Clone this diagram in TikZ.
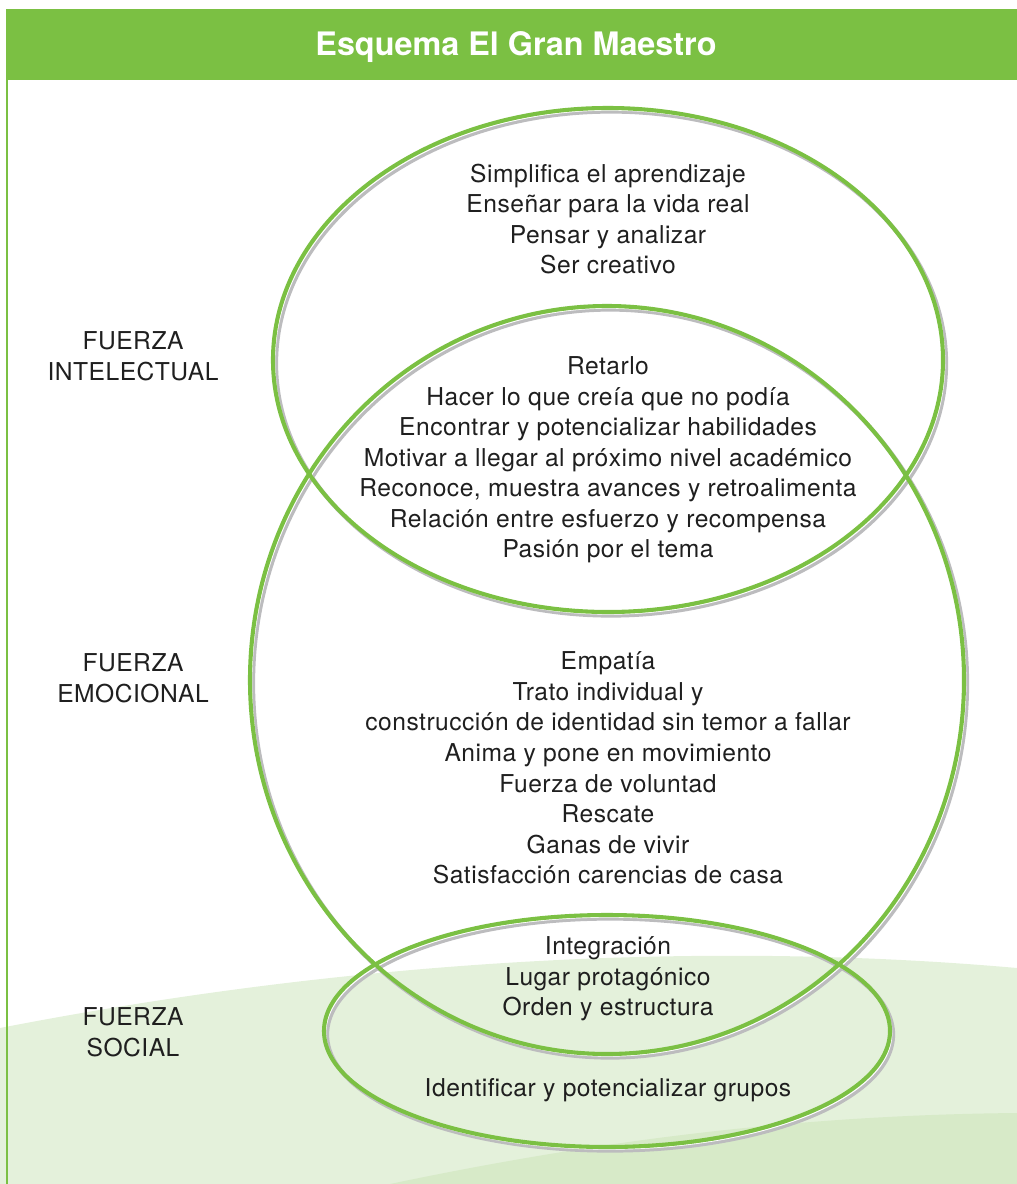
\documentclass[tikz,border=0pt]{standalone}
\usepackage{fontspec}
\setmainfont{TeX Gyre Heros}
\newfontfamily\texto[LetterSpace=2]{TeX Gyre Heros}
\definecolor{verde}{RGB}{123,192,67}
\definecolor{verdeclaro}{RGB}{228,241,219}
\definecolor{verdemedio}{RGB}{215,234,200}
\definecolor{sombra}{RGB}{188,188,190}

\begin{document}
\begin{tikzpicture}[x=0.025cm,y=-0.025cm,
    txt/.style={align=center,inner sep=0pt,text=black!88,font=\texto\fontsize{17.5}{21.7}\selectfont},
    fuerza/.style={txt}]
    \useasboundingbox (0,0) rectangle (1017,1184);

    % fondo
    \fill[verdeclaro] (0,1028) .. controls (350,960) and (700,940) .. (1017,968) -- (1017,1184) -- (0,1184) -- cycle;
    \fill[verdemedio] (390,1184) .. controls (600,1140) and (800,1115) .. (1017,1113) -- (1017,1184) -- cycle;
    \fill[verde] (6,9) rectangle (1017,80);
    \draw[verde,line width=1.4pt] (7,80) -- (7,1184);
    \node[text=white,inner sep=0pt,font=\bfseries\fontsize{23}{28}\selectfont](titulo) at (516,47) {Esquema El Gran Maestro};

    % elipses
    \foreach \cx/\cy/\rx/\ry in {608/360/335/252, 607/680/357/374, 607/1031/283/116}
      \draw[sombra,line width=3pt] (\cx+3,\cy+3.5) ellipse [x radius=\rx, y radius=\ry];
    \foreach \cx/\cy/\rx/\ry in {608/360/335/252, 607/680/357/374, 607/1031/283/116}
      \draw[white,line width=0.8pt] (\cx+1.8,\cy+2.1) ellipse [x radius=\rx, y radius=\ry];
    \foreach \cx/\cy/\rx/\ry in {608/360/335/252, 607/680/357/374, 607/1031/283/116}
      \draw[verde,line width=2.9pt] (\cx,\cy) ellipse [x radius=\rx, y radius=\ry];

    \node[fuerza](intelectual) at (133,356) {FUERZA\\INTELECTUAL};
    \node[fuerza](emocional) at (133,678) {FUERZA\\EMOCIONAL};
    \node[fuerza](social) at (133,1032) {FUERZA\\SOCIAL};

    \node[txt](arriba) at (608,219) {Simplifica el aprendizaje\\Enseñar para la vida real\\Pensar y analizar\\Ser creativo};
    \node[txt](cruce) at (608,460) {Retarlo\\Hacer lo que creía que no podía\\Encontrar y potencializar habilidades\\Motivar a llegar al próximo nivel académico\\Reconoce, muestra avances y retroalimenta\\Relación entre esfuerzo y recompensa\\Pasión por el tema};
    \node[txt](centro) at (608,768) {Empatía\\Trato individual y\\construcción de identidad sin temor a fallar\\Anima y pone en movimiento\\Fuerza de voluntad\\Rescate\\Ganas de vivir\\Satisfacción carencias de casa};
    \node[txt](cruceabajo) at (608,979) {Integración\\Lugar protagónico\\Orden y estructura};
    \node[txt](abajo) at (608,1090) {Identificar y potencializar grupos};
\end{tikzpicture}
\end{document}
